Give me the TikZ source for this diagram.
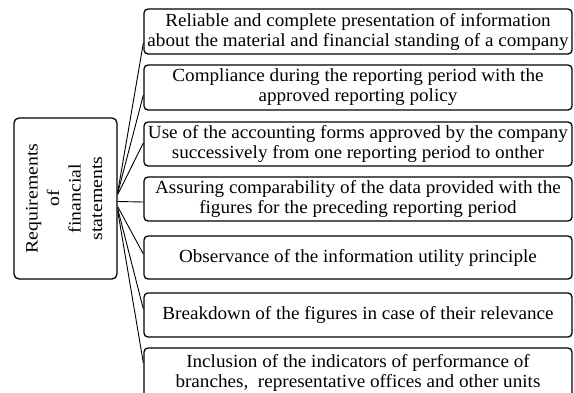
\documentclass[tikz,border=0pt]{standalone}
\usepackage{fontspec}
\setmainfont[FakeStretch=1.035]{Liberation Serif}
\newfontfamily\widefont[FakeStretch=1.13]{Liberation Serif}
\usetikzlibrary{positioning}

\begin{document}
\begin{tikzpicture}[x=1pt, y=-1pt,
    reqbox/.style={draw, line width=1.3pt, rounded corners=4pt, align=center,
      minimum width=428pt, inner xsep=0pt, inner ysep=0pt,
      font=\fontsize{18.5}{20}\selectfont},
    link/.style={line width=0.9pt}]
  \useasboundingbox (0,0) rectangle (574,392);
  \node[draw, line width=1.3pt, rounded corners=5pt, minimum width=103pt, minimum height=161pt,
    inner sep=0pt] (req) at (65.5,198.5)
    {\rotatebox{90}{\widefont\fontsize{17.5}{21.5}\selectfont
      \begin{tabular}{@{}c@{}}Requirements\\ of\\ financial\\ statements\end{tabular}}};
  \node[reqbox, minimum height=45pt] (rel) at (358,31.5)
    {Reliable and complete presentation of information\\ about the material and financial standing of a company};
  \node[reqbox, minimum height=45pt] (comp) at (358,87.5)
    {Compliance during the reporting period with the\\ approved reporting policy};
  \node[reqbox, minimum height=44pt] (forms) at (358,144)
    {Use of the accounting forms approved by the company\\ successively from one reporting period to onther};
  \node[reqbox, minimum height=44pt] (compar) at (358,199)
    {Assuring comparability of the data provided with the\\ figures for the preceding reporting period};
  \node[reqbox, minimum height=43pt] (util) at (358,257.5)
    {Observance of the information utility principle};
  \node[reqbox, minimum height=44pt] (brk) at (358,315)
    {Breakdown of the figures in case of their relevance};
  \node[reqbox, minimum height=50pt] (incl) at (358,373)
    {Inclusion of the indicators of performance of\\ branches,~ representative offices and other units};
  \draw[link] ([yshift=6pt]req.east) -- ([yshift=-11.5pt]rel.west);
  \draw[link] ([yshift=5pt]req.east) -- ([yshift=-7.5pt]comp.west);
  \draw[link] ([yshift=4pt]req.east) -- ([yshift=1pt]forms.west);
  \draw[link] ([yshift=-3pt]req.east) -- ([yshift=-3pt]compar.west);
  \draw[link] ([yshift=-8pt]req.east) -- ([yshift=3.5pt]util.west);
  \draw[link] ([yshift=-10pt]req.east) -- ([yshift=6pt]brk.west);
  \draw[link] ([yshift=-12pt]req.east) -- ([yshift=10pt]incl.west);
\end{tikzpicture}
\end{document}
